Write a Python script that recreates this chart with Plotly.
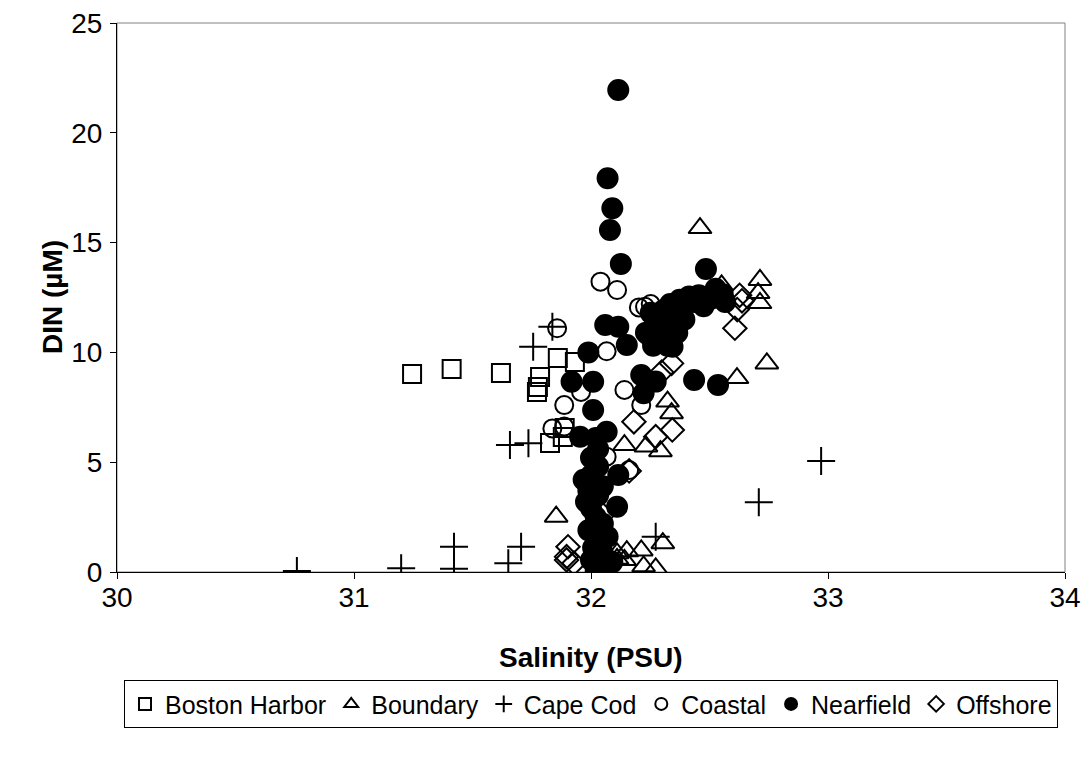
import plotly.graph_objects as go

# Salinity (PSU) and DIN (uM) by station group
boston_sal = [31.245, 31.412, 31.62, 31.785, 31.776, 31.772, 31.86, 31.932, 31.827, 31.881, 31.889]
boston_din = [9.02, 9.24, 9.06, 8.88, 8.42, 8.20, 9.74, 9.56, 5.87, 6.15, 6.56]

boundary_sal = [32.46, 32.713, 32.705, 32.713, 32.551, 32.742, 32.616, 32.323, 32.34, 32.141, 32.232,
                32.293, 31.853, 32.303, 32.11, 32.151, 32.212, 32.11, 32.141, 32.222, 32.273]
boundary_din = [15.66, 13.30, 12.70, 12.25, 13.05, 9.50, 8.83, 7.76, 7.23, 5.78, 5.72,
                5.50, 2.52, 1.31, 0.85, 0.95, 0.98, 0.60, 0.55, 0.26, 0.17]

capecod_sal = [30.759, 31.199, 31.422, 31.422, 31.651, 31.705, 31.658, 31.736, 31.756, 31.837,
               32.708, 32.971, 32.273]
capecod_din = [0.05, 0.17, 1.15, 0.15, 0.40, 1.15, 5.78, 5.86, 10.26, 11.17, 3.18, 5.05, 1.61]

coastal_sal = [32.04, 32.11, 32.228, 32.202, 32.252, 31.857, 32.066, 32.141, 32.212, 31.958, 31.887,
               31.837, 31.887, 32.066, 32.161]
coastal_din = [13.22, 12.84, 12.08, 12.05, 12.2, 11.10, 10.05, 8.29, 7.60, 8.20, 7.60,
               6.54, 6.62, 5.25, 4.64]

nearfield_sal = [32.115, 32.07, 32.09, 32.08, 32.126, 32.485, 32.526, 32.556, 32.506, 32.455, 32.435,
                 32.414, 32.394, 32.374, 32.364, 32.344, 32.334, 32.313, 32.303, 32.293, 32.283, 32.273,
                 32.262, 32.242, 32.232, 32.252, 32.323, 32.364, 32.394, 32.475, 32.566, 32.06, 32.115,
                 32.151, 31.989, 32.344, 32.212, 32.273, 32.222, 32.435, 32.536, 31.918, 32.009, 32.009,
                 32.066, 31.954, 32.02, 32.03, 32.0, 32.03, 31.969, 32.0, 32.115, 31.989, 32.03,
                 31.979, 32.05, 32.11, 32.0, 32.02, 32.05, 31.989, 32.07, 32.03, 32.009, 32.05,
                 32.0, 32.03, 32.06, 32.09, 32.02]
nearfield_din = [21.95, 17.93, 16.56, 15.57, 14.03, 13.80, 12.90, 12.65, 12.45, 12.60, 12.30,
                 12.55, 12.25, 12.40, 12.00, 11.80, 12.20, 11.60, 11.90, 11.30, 11.00, 10.60,
                 10.30, 10.80, 10.90, 11.80, 10.30, 10.90, 11.50, 12.10, 12.30, 11.25, 11.17,
                 10.34, 10.00, 10.26, 8.97, 8.67, 8.14, 8.74, 8.52, 8.66, 8.66, 7.38,
                 6.39, 6.16, 6.10, 5.60, 5.20, 4.80, 4.20, 4.40, 4.42, 3.70, 3.50,
                 3.20, 3.90, 2.97, 2.90, 2.50, 2.20, 1.90, 1.61, 1.50, 1.10, 0.85,
                 0.55, 0.30, 0.10, 0.45, 0.05]

offshore_sal = [32.627, 32.637, 32.617, 32.607, 32.34, 32.298, 32.181, 32.343, 32.273, 32.05, 31.903,
                31.897, 31.928, 31.897, 32.161]
offshore_din = [12.60, 12.35, 11.95, 11.10, 9.50, 9.10, 6.84, 6.47, 6.16, 2.60, 1.15,
                0.55, 0.40, 0.70, 4.60]

FONT = "Liberation Sans, Arial, sans-serif"

series = [
    ("Boston Harbor", boston_sal, boston_din, "square-open", 18),
    ("Boundary", boundary_sal, boundary_din, "triangle-up-open", 20),
    ("Cape Cod", capecod_sal, capecod_din, "cross-thin-open", 20),
    ("Coastal", coastal_sal, coastal_din, "circle-open", 18),
    ("Nearfield", nearfield_sal, nearfield_din, "circle", 20),
    ("Offshore", offshore_sal, offshore_din, "diamond-open", 18),
]

fig = go.Figure()
for name, xs, ys, sym, size in series:
    fig.add_trace(go.Scatter(
        x=xs, y=ys, mode="markers", name=name,
        marker=dict(symbol=sym, size=size, color="black",
                    line=dict(color="black", width=2)),
    ))

# grey frame around the plotting area
fig.add_shape(type="rect", xref="paper", yref="paper", x0=0, y0=0, x1=1, y1=1,
              line=dict(color="#808080", width=1), layer="below")

# axis titles
fig.add_annotation(text="<b>Salinity (PSU)</b>", xref="paper", yref="paper",
                   x=0.5, y=-0.155, xanchor="center", yanchor="middle",
                   showarrow=False, font=dict(size=28))
fig.add_annotation(text="<b>DIN (µM)</b>", xref="paper", yref="paper",
                   x=-0.068, y=0.5, xanchor="center", yanchor="middle", textangle=-90,
                   showarrow=False, font=dict(size=28))

fig.update_layout(
    width=1083, height=760,
    margin=dict(l=117, r=18, t=23, b=188),
    paper_bgcolor="white", plot_bgcolor="white",
    font=dict(family=FONT, size=28, color="black"),
    showlegend=True,
    legend=dict(orientation="h", x=0.5, xanchor="center", y=-0.197, yanchor="top",
                bordercolor="black", borderwidth=1, font=dict(size=25),
                itemsizing="constant", tracegroupgap=0, itemwidth=30),
)
fig.update_xaxes(range=[30, 34], dtick=1, tick0=30, showgrid=False, zeroline=False,
                 showline=True, linecolor="black", linewidth=1, automargin=False,
                 ticks="outside", ticklen=6, tickcolor="black", tickfont=dict(size=28),
                 ticklabeloverflow="allow", ticklabelstandoff=-6)
fig.update_yaxes(range=[0, 25], dtick=5, tick0=0, showgrid=False, zeroline=False,
                 showline=True, linecolor="black", linewidth=1, automargin=False,
                 ticks="outside", ticklen=6, tickcolor="black", tickfont=dict(size=28),
                 ticklabelstandoff=2)

fig.write_html("out.html")
